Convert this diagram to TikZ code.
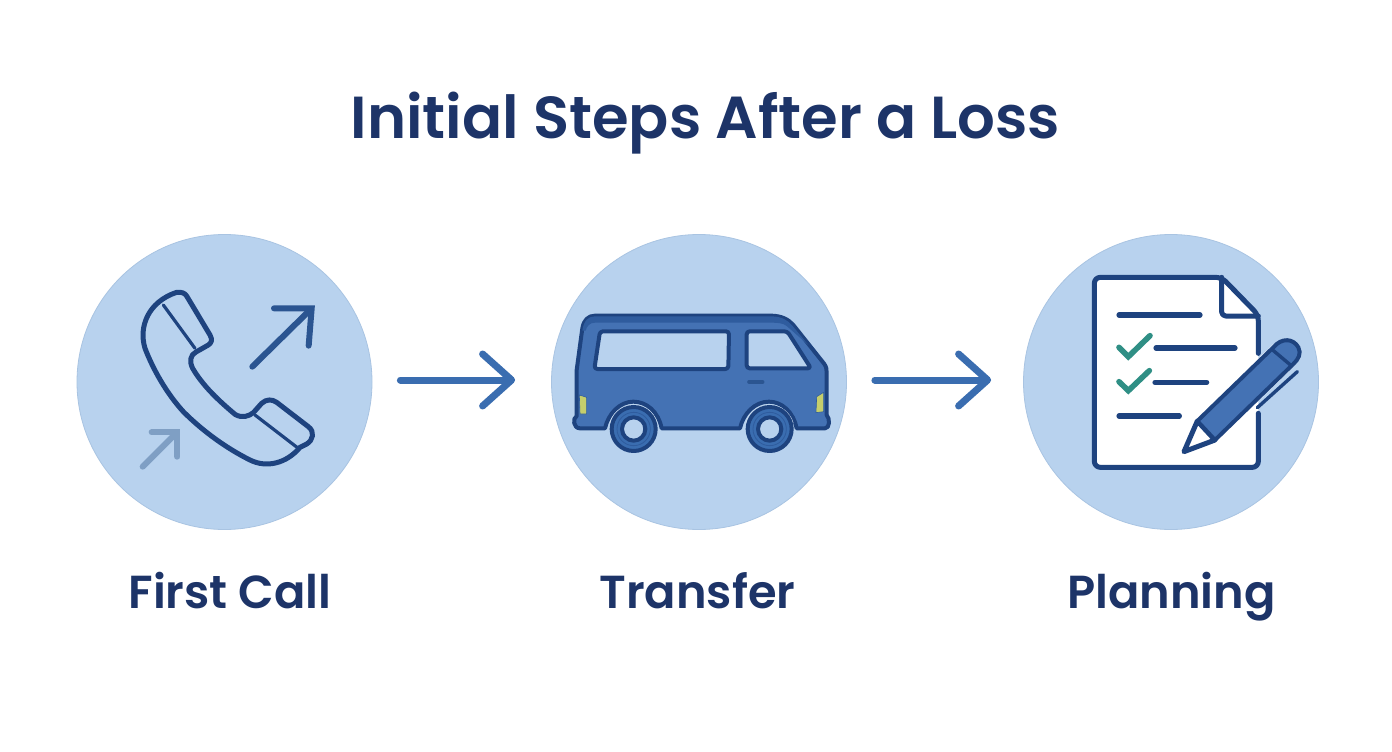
\documentclass[tikz,border=0pt]{standalone}
\usepackage{fontspec}
\setmainfont{Poppins}[BoldFont={Poppins SemiBold}]
\usetikzlibrary{arrows.meta}
\definecolor{disc}{HTML}{B8D2EE}
\definecolor{discedge}{HTML}{A9C4E2}
\definecolor{navy}{HTML}{1D3468}
\definecolor{flowblue}{HTML}{3A6DB0}
\definecolor{inkblue}{HTML}{1E437F}
\definecolor{arrowblue}{HTML}{2B5591}
\definecolor{paleblue}{HTML}{7F9FC4}
\definecolor{vanblue}{HTML}{4472B4}
\definecolor{roofblue}{HTML}{2F5C9E}
\definecolor{lampgreen}{HTML}{C5CE6C}
\definecolor{checkgreen}{HTML}{2F8F85}
\tikzset{
  discnode/.style={circle,fill=disc,draw=discedge,line width=.8pt,minimum size=295pt,inner sep=0pt},
  flow/.style={draw=flowblue,line width=7pt,line cap=round,-{Straight Barb[length=29pt,width=52pt,line width=7pt,round]}},
  titletext/.style={font=\bfseries\fontsize{59.3}{64}\selectfont,text=navy,anchor=base},
  labeltext/.style={font=\bfseries\fontsize{46.3}{52}\selectfont,text=navy,anchor=base},
  phoneline/.style={draw=inkblue,line width=5pt,line join=round,line cap=round},
  vanline/.style={draw=inkblue,line width=4pt,line join=round},
  docline/.style={draw=inkblue,line width=5pt,line join=round,line cap=round},
  textline/.style={draw=inkblue,line width=5.2pt,line cap=round},
  tick/.style={draw=checkgreen,line width=5.6pt,line cap=round,line join=miter},
  zoomscope/.style={shift={#1},x=.33333pt,y=-.33333pt},
}
\begin{document}
\begin{tikzpicture}[x=1pt,y=-1pt]
\useasboundingbox (0,0) rectangle (1392,752);
\fill[white] (0,0) rectangle (1392,752);
\node[titletext] (title) at (705.5,138) {Initial Steps After a Loss};
\node[discnode] (c1) at (224.5,382) {};
\node[discnode] (c2) at (699,382) {};
\node[discnode] (c3) at (1171,382) {};
\draw[flow] ([shift={(28,-2)}]c1.east) -- ([shift={(-36,-2)}]c2.west);
\draw[flow] ([shift={(28,-2)}]c2.east) -- ([shift={(-32,-2)}]c3.west);
\node[labeltext] (l1) at (230,608) {First Call};
\node[labeltext] (l2) at (697.5,608) {Transfer};
\node[labeltext] (l3) at (1171.5,608) {Planning};
% phone
\begin{scope}[zoomscope={(70,230)}]
\draw[phoneline] (320,187) .. controls (335,185) and (345,190) .. (350,198)
 -- (420,315) .. controls (428,330) and (425,338) .. (415,345)
 -- (378,366) .. controls (360,375) and (358,395) .. (368,415)
 .. controls (400,470) and (450,515) .. (495,553)
 .. controls (515,565) and (535,560) .. (550,548)
 -- (575,520) .. controls (590,507) and (605,507) .. (620,517)
 -- (715,590) .. controls (735,605) and (730,630) .. (710,642)
 -- (690,652) .. controls (650,700) and (590,715) .. (540,690)
 .. controls (470,655) and (400,605) .. (340,545)
 .. controls (290,490) and (250,420) .. (225,355)
 .. controls (205,290) and (235,215) .. (320,187) -- cycle;
\draw[phoneline,line width=3.2pt] (280,225) -- (375,355);
\draw[phoneline,line width=3.2pt] (555,555) -- (685,655);
\draw[draw=arrowblue,line width=6pt,line cap=round,line join=miter] (547,410) -- (722,238);
\draw[draw=arrowblue,line width=6pt,line cap=round,line join=miter] (612,235) -- (725,235) -- (716,347);
\draw[draw=paleblue,line width=6pt,line cap=round,line join=miter] (218,710) -- (318,610);
\draw[draw=paleblue,line width=6pt,line cap=round,line join=miter] (245,607) -- (322,607) -- (322,680);
\end{scope}
% van
\begin{scope}[zoomscope={(545,290)}]
\filldraw[vanline,fill=vanblue] (150,77) -- (680,77) .. controls (710,78) and (730,88) .. (745,105)
 -- (838,222) .. controls (845,232) and (845,240) .. (845,250) -- (845,375)
 .. controls (855,385) and (855,415) .. (840,415) -- (755,415)
 .. controls (745,365) and (710,335) .. (672,335) .. controls (630,335) and (595,370) .. (585,415)
 -- (350,415) .. controls (340,365) and (305,335) .. (265,335) .. controls (225,335) and (190,370) .. (180,415)
 -- (105,415) .. controls (85,415) and (82,385) .. (95,378) -- (95,240) -- (112,115)
 .. controls (116,90) and (130,77) .. (150,77) -- cycle;
\fill[roofblue] (150,79) -- (680,79) .. controls (710,80) and (728,90) .. (742,107) -- (790,165) -- (725,108) .. controls (715,100) and (700,98) .. (680,98) -- (150,98) .. controls (135,98) and (125,108) .. (122,122) -- (112,122) .. controls (116,92) and (130,79) .. (150,79) -- cycle;
\filldraw[vanline,fill=disc,rounded corners=3pt] (165,124) -- (552,124) -- (550,237) -- (148,237) -- cycle;
\filldraw[vanline,fill=disc,rounded corners=3pt] (605,124) -- (727,124) -- (798,235) -- (605,235) -- cycle;
\draw[draw=arrowblue,line width=3.6pt,line cap=round] (612,276) -- (653,276);
\filldraw[draw=roofblue,line width=.6pt,fill=lampgreen] (103,315) -- (125,322) -- (125,372) -- (105,372) -- cycle;
\filldraw[draw=roofblue,line width=.6pt,fill=lampgreen] (836,307) -- (815,320) -- (813,368) -- (836,365) -- cycle;
\foreach \cx in {266,674}{
  \draw[white!40!disc,line width=1.6pt] (\cx-70,400) arc[start angle=195,end angle=345,radius=72];
  \filldraw[vanline,fill=flowblue] (\cx,417) circle[radius=66];
  \draw[draw=roofblue,line width=.8pt] (\cx,417) circle[radius=50];
  \filldraw[vanline,fill=disc] (\cx,417) circle[radius=35];
}
\end{scope}
% planning document
\begin{scope}[zoomscope={(1060,260)}]
\fill[white] (110,52) -- (485,52) -- (595,165) -- (595,622) -- (103,622) -- (103,52) -- cycle;
\draw[docline,rounded corners=6pt] (595,280) -- (595,165) -- (485,52) -- (103,52) -- (103,622) -- (595,622) -- (595,460);
\draw[docline,rounded corners=4pt] (485,52) -- (485,168) -- (595,168);
\draw[textline] (177,165) -- (420,165);
\draw[textline] (288,264) -- (525,264);
\draw[textline] (285,367) -- (440,367);
\draw[textline] (177,468) -- (358,468);
\draw[tick] (177,262) -- (205,290) -- (270,227);
\draw[tick] (177,365) -- (205,392) -- (268,332);
\draw[draw=white,line width=5pt,line join=round] (412,483) -- (645,258) -- (700,310) -- (465,540) -- cycle;
\filldraw[docline,fill=white] (412,483) -- (372,575) -- (465,540) -- cycle;
\filldraw[docline,line width=4pt,fill=vanblue] (412,483) -- (640,262) .. controls (665,232) and (700,235) .. (715,262) .. controls (725,280) and (715,298) .. (700,312) -- (465,540) -- cycle;
\draw[docline,line width=3.4pt] (638,270) -- (695,318);
\draw[docline,line width=3.4pt] (592,443) -- (712,335);
\end{scope}
\end{tikzpicture}
\end{document}
